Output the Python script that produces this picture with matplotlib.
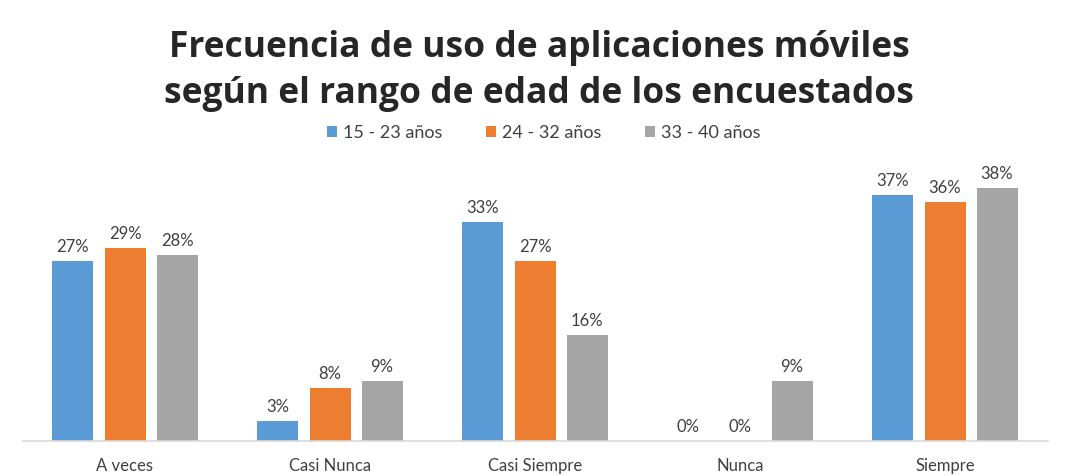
import numpy as np
import matplotlib.pyplot as plt

categorias = ["A veces", "Casi Nunca", "Casi Siempre", "Nunca", "Siempre"]
series = ["15 - 23 años", "24 - 32 años", "33 - 40 años"]
edad_15_23 = [27, 3, 33, 0, 37]
edad_24_32 = [29, 8, 27, 0, 36]
edad_33_40 = [28, 9, 16, 9, 38]
colores = ["#5B9BD5", "#ED7D31", "#A5A5A5"]

plt.rcParams['font.family'] = ['Lato', 'DejaVu Sans']

fig = plt.figure(figsize=(10.66, 4.76), dpi=100)
ax = fig.add_axes([22.5 / 1066, 35 / 476, 1025 / 1066, 266 / 476])

x = np.arange(len(categorias))
ancho = 0.2
paso = 0.254
valores = [edad_15_23, edad_24_32, edad_33_40]
for i, (vals, nombre, col) in enumerate(zip(valores, series, colores)):
    pos = x + (i - 1) * paso
    ax.bar(pos, vals, width=ancho, color=col, label=nombre)
    for p, v in zip(pos, vals):
        ax.text(p, v + 0.9, f"{v}%", ha="center", va="bottom",
                fontsize=12, color="#404040")

ax.set_xlim(-0.5, len(categorias) - 0.5)
ax.set_ylim(0, 40)
ax.set_yticks([])
ax.set_xticks(x)
ax.set_xticklabels(categorias, fontsize=12, color="#404040")
ax.tick_params(axis="x", length=0, pad=12)
for s in ["top", "right", "left"]:
    ax.spines[s].set_visible(False)
ax.spines["bottom"].set_color("#D9D9D9")
ax.spines["bottom"].set_linewidth(1.2)

fig.text(0.506, 0.851, "Frecuencia de uso de aplicaciones móviles\nsegún el rango de edad de los encuestados",
         ha="center", va="center", fontsize=25.5, fontweight="bold",
         color="#262626", linespacing=1.35, family=['Open Sans', 'DejaVu Sans'])

fig.legend(loc="center", bbox_to_anchor=(0.51, 0.72), ncol=3, frameon=False,
           fontsize=13, handlelength=0.55, handleheight=0.55, columnspacing=2.4,
           handletextpad=0.35, labelcolor="#404040")

fig.savefig("out.png", dpi=100, facecolor="white")
